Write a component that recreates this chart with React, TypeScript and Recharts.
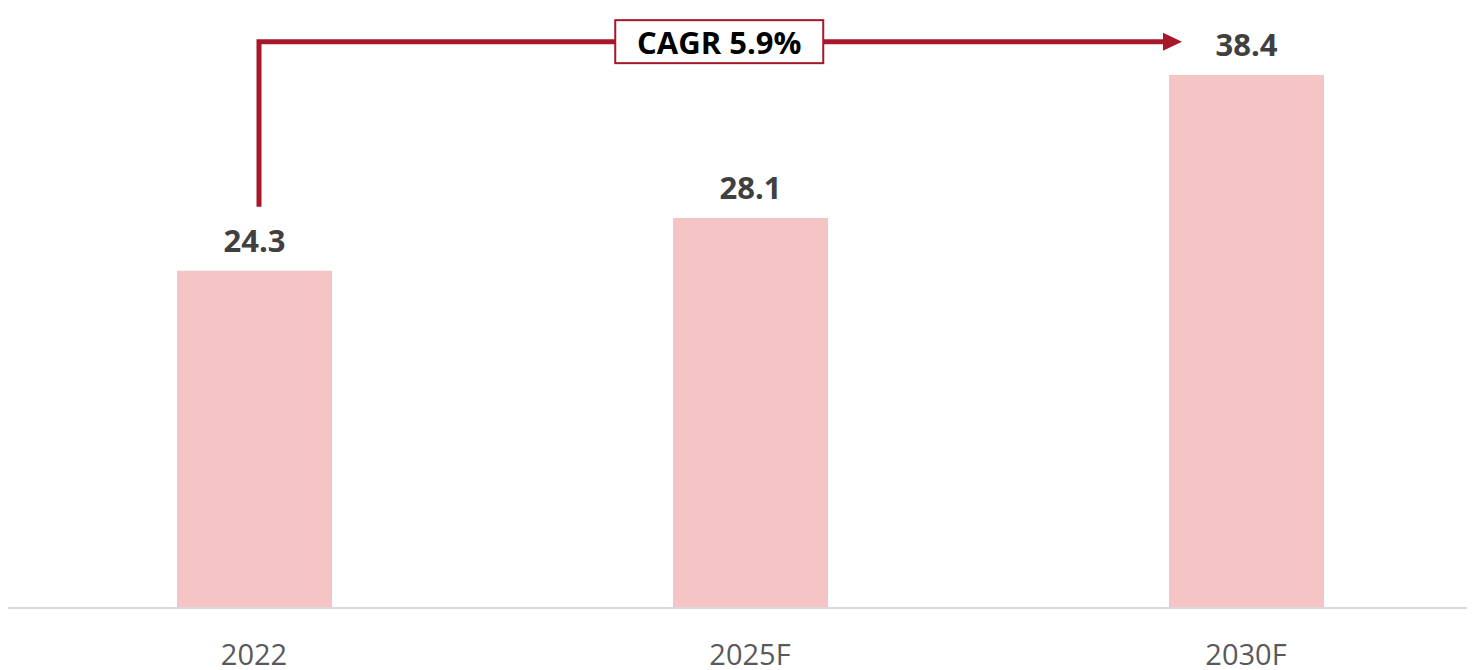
import React from 'react';
import { BarChart, Bar, XAxis, YAxis, LabelList, ReferenceLine } from 'recharts';

const years = ['2022', '2025F', '2030F'];
const marketSize = [24.3, 28.1, 38.4];
const cagrLabel = 'CAGR 5.9%';
// y values (chart units) for the start of the CAGR elbow and its horizontal run
const cagrFrom = 28.9;
const cagrLevel = 40.8;

const data = years.map((year, i) => ({ year, value: marketSize[i] }));

const RED = '#A6172A';

// elbow arrow with the CAGR box sitting on the horizontal run
const CagrArrow = (props: any) => {
  const { x1, y1, x2, y2 } = props;
  if (x1 == null) return null;
  const sx = x1 + 5;
  const tip = x2 - 64;
  const boxCx = x1 + (x2 - x1) * 0.469;
  const boxW = 208;
  const boxH = 43;
  return (
    <g>
      <path d={`M${sx},${y1} V${y2} H${tip - 18}`} fill="none" stroke={RED} strokeWidth={5} />
      <polygon points={`${tip - 19},${y2 - 9} ${tip},${y2} ${tip - 19},${y2 + 9}`} fill={RED} />
      <rect x={boxCx - boxW / 2} y={y2 - boxH / 2} width={boxW} height={boxH} fill="#fff" stroke={RED} strokeWidth={2} />
      <text
        x={boxCx}
        y={y2}
        textAnchor="middle"
        dominantBaseline="central"
        fontSize={31}
        fontWeight={700}
        fill="#000"
        fontFamily="'Open Sans', sans-serif"
      >
        {cagrLabel}
      </text>
    </g>
  );
};

export default function App() {
  return (
    <div
      style={{
        width: 1477,
        height: 662,
        overflow: 'hidden',
        marginLeft: -2,
        fontFamily: "'Open Sans', sans-serif",
      }}
    >
      <BarChart width={1488} height={662} data={data} margin={{ top: 17, right: 0, bottom: 0, left: 0 }}>
        <XAxis
          dataKey="year"
          height={62}
          tickLine={false}
          axisLine={{ stroke: '#D9D9D9', strokeWidth: 2 }}
          tick={{ fontSize: 29, fill: '#595959', dy: 28 }}
        />
        <YAxis hide domain={[0, 42]} />
        <Bar dataKey="value" fill="#F5C4C5" barSize={155} isAnimationActive={false}>
          <LabelList
            dataKey="value"
            position="top"
            offset={19}
            style={{ fontSize: 31, fontWeight: 700, fill: '#404040' }}
            formatter={(v: any) => Number(v).toFixed(1)}
          />
        </Bar>
        <ReferenceLine
          segment={[
            { x: years[0], y: cagrFrom },
            { x: years[2], y: cagrLevel },
          ]}
          shape={<CagrArrow />}
        />
      </BarChart>
    </div>
  );
}
